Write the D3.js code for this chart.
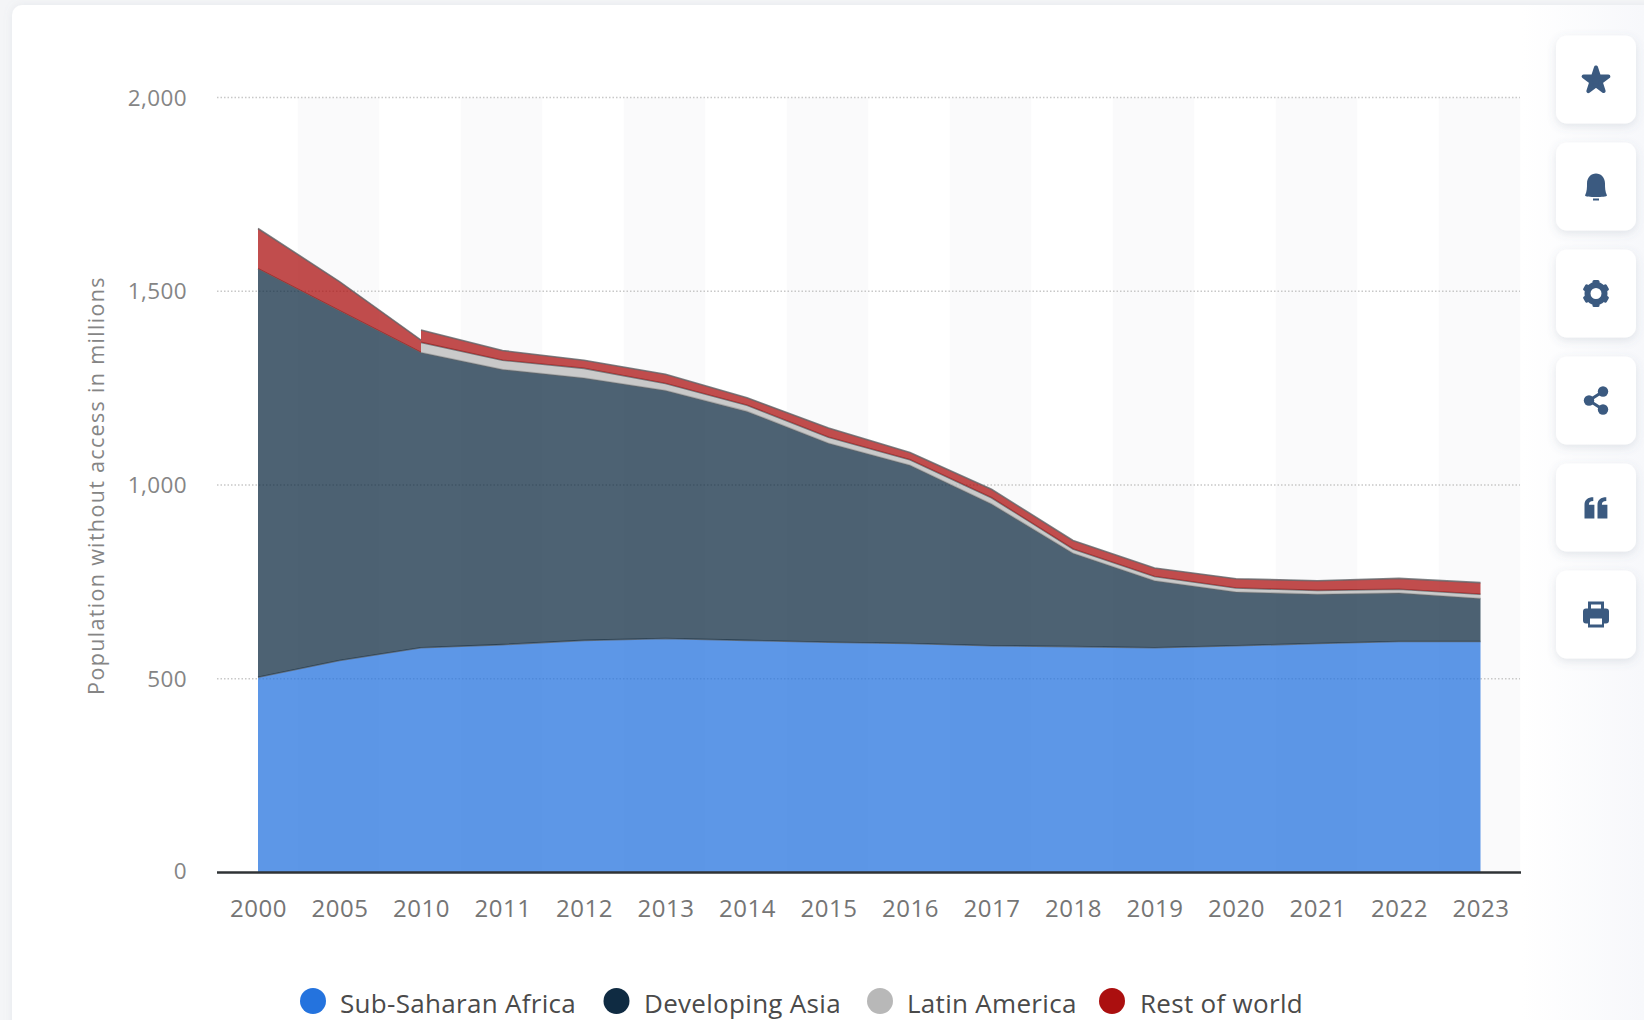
<!DOCTYPE html>
<html><head><meta charset="utf-8">
<script src="https://cdn.jsdelivr.net/npm/d3@7"></script>
<style>
html,body{margin:0;padding:0;background:#f4f5f7;overflow:hidden}
svg{display:block}
text{font-family:"Open Sans",sans-serif}
</style></head><body>
<svg id="c" width="1644" height="1020"></svg>
<script>
const categories=["2000","2005","2010","2011","2012","2013","2014","2015","2016","2017","2018","2019","2020","2021","2022","2023"];
const africa=[504,547,580,588,599,604,599,594,591,585,583,580,585,591,596,596];
const asia=[1054,903,762,710,677,640,591,514,460,366,241,173,139,127,125,111];
const latin=[null,null,26,24,25,18,16,15,14,16,11,11,10,10,10,11];
const rest=[104,75,32,25,21,24,19,24,19,22,22,22,24,25,28,30];
const yTicks=[0,500,1000,1500,2000];
const seriesNames=["Sub-Saharan Africa","Developing Asia","Latin America","Rest of world"];
const seriesColors=["#2473de","#0f2b42","#b8b8b8","#ab0f0f"];

const svg=d3.select("#c");
const defs=svg.append("defs");
const fade=defs.append("linearGradient").attr("id","fade");
fade.append("stop").attr("offset",0).attr("stop-color","#fff");
fade.append("stop").attr("offset",1).attr("stop-color","#f7f8fb");
const sh=defs.append("filter").attr("id","sh").attr("x","-30%").attr("y","-30%").attr("width","160%").attr("height","170%");
sh.append("feDropShadow").attr("dx",0).attr("dy",3).attr("stdDeviation",5).attr("flood-color","#5a6a80").attr("flood-opacity",.16);
const cs=defs.append("filter").attr("id","cs").attr("x","-2%").attr("y","-2%").attr("width","104%").attr("height","104%");
cs.append("feDropShadow").attr("dx",0).attr("dy",0).attr("stdDeviation",4).attr("flood-color","#8a94a6").attr("flood-opacity",.14);

// card
svg.append("rect").attr("x",12).attr("y",5).attr("width",1700).attr("height",1100).attr("rx",10).attr("fill","#fff").attr("filter","url(#cs)");
svg.append("rect").attr("x",1522).attr("y",5).attr("width",122).attr("height",1015).attr("fill","url(#fade)");

const x=d3.scalePoint().domain(categories).range([258,1480.5]);
const y=d3.scaleLinear().domain([0,2000]).range([872.5,97.5]);
const step=x.step();

// alternating bands
svg.append("g").selectAll("rect").data(categories.filter((c,i)=>i%2===1)).join("rect")
  .attr("x",d=>x(d)-step/2-1).attr("width",step).attr("y",y(2000)).attr("height",y(0)-y(2000)).attr("fill","#fafafb");

// grid
svg.append("g").selectAll("line").data(yTicks.filter(d=>d>0)).join("line")
  .attr("x1",217).attr("x2",1520).attr("y1",d=>y(d)).attr("y2",d=>y(d))
  .attr("stroke","#c8c8c8").attr("stroke-width",1.5).attr("stroke-dasharray","1.5 2");

// stacks
const rows=categories.map((c,i)=>{
  const a=africa[i],b=a+asia[i],l=latin[i];
  return {c,a,b,l,lt:l==null?null:b+l,rest:rest[i]};
});
const areaG=svg.append("g");
function band(data,lo,hi,color){
  areaG.append("path").attr("fill",color).attr("fill-opacity",.74)
    .attr("d",d3.area().x(d=>x(d.c)).y0(d=>y(lo(d))).y1(d=>y(hi(d)))(data));
  areaG.append("path").attr("fill","none").attr("stroke","#5f6468").attr("stroke-width",1.6).attr("stroke-opacity",.8)
    .attr("d",d3.line().x(d=>x(d.c)).y(d=>y(hi(d)))(data));
}
const noLatin=rows.slice(0,3), withLatin=rows.slice(2);
band(rows,()=>0,d=>d.a,seriesColors[0]);
band(rows,d=>d.a,d=>d.b,seriesColors[1]);
band(withLatin,d=>d.b,d=>d.lt,seriesColors[2]);
band(noLatin,d=>d.b,d=>d.b+d.rest,seriesColors[3]);
band(withLatin,d=>d.lt,d=>d.lt+d.rest,seriesColors[3]);

// axes
const yAxis=svg.append("g").attr("transform","translate(187,0)")
  .call(d3.axisLeft(y).tickValues(yTicks).tickFormat(d3.format(",")).tickSize(0).tickPadding(0));
yAxis.select(".domain").remove();
yAxis.selectAll("text").attr("font-family",'"Open Sans",sans-serif').attr("font-size",22.5).attr("letter-spacing",0.4).attr("fill","#858585")
  .attr("dy",d=>d===0?"0.25em":"0.34em");
const xAxis=svg.append("g").attr("transform","translate(0,872)")
  .call(d3.axisBottom(x).tickSize(0).tickPadding(0));
xAxis.select(".domain").remove();
xAxis.selectAll("text").attr("font-family",'"Open Sans",sans-serif').attr("font-size",24).attr("letter-spacing",0.5).attr("fill","#757575").attr("dy",0).attr("y",45);
svg.append("line").attr("x1",217).attr("x2",1521).attr("y1",y(0)).attr("y2",y(0)).attr("stroke","#2f3336").attr("stroke-width",2.4);

svg.append("text").attr("transform","translate(104,485.5) rotate(-90)").attr("text-anchor","middle")
  .attr("font-size",21.5).attr("letter-spacing",1.33).attr("fill","#858585").text("Population without access in millions");

// legend
const legendDotX=[313,616.5,880,1112], legendTextX=[340,644,907,1140];
const lg=svg.append("g").selectAll("g").data(seriesNames).join("g");
lg.append("circle").attr("cx",(d,i)=>legendDotX[i]).attr("cy",1001).attr("r",13).attr("fill",(d,i)=>seriesColors[i]);
lg.append("text").attr("x",(d,i)=>legendTextX[i]).attr("y",1013).attr("font-size",26).attr("letter-spacing",0.3).attr("fill","#4a4a4a").text(d=>d);

// side buttons
const btnTop=[35.5,142.5,249.5,356.5,463.5,570.5];
const iconColor="#3b5a80";
const btn=svg.append("g").selectAll("g").data(btnTop).join("g").attr("transform",d=>`translate(1556,${d})`);
btn.append("rect").attr("width",80).attr("height",88).attr("rx",11).attr("fill","#fff").attr("filter","url(#sh)");
const icons=btn.append("g").attr("transform","translate(40,44)").attr("fill",iconColor);
// star
d3.select(icons.nodes()[0]).append("path").attr("d",d3.symbol(d3.symbolStar,190)()).attr("transform","translate(0,1)")
  .attr("stroke",iconColor).attr("stroke-width",4).attr("stroke-linejoin","round");
// bell
d3.select(icons.nodes()[1]).call(g=>{
  g.append("path").attr("d","M-11,9 C-9,5 -9,1 -9,-3 C-9,-9 -5,-13 0,-13 C5,-13 9,-9 9,-3 C9,1 9,5 11,9 C11,11 -11,11 -11,9 Z");
  g.append("rect").attr("x",-3).attr("y",12).attr("width",6).attr("height",2);
});
// gear
d3.select(icons.nodes()[2]).call(g=>{
  g.append("circle").attr("r",8.5).attr("fill","none").attr("stroke",iconColor).attr("stroke-width",6);
  d3.range(6).forEach(i=>g.append("rect").attr("x",-3.5).attr("y",-13.5).attr("width",7).attr("height",5).attr("rx",1.5).attr("transform",`rotate(${i*60})`));
});
// share
d3.select(icons.nodes()[3]).call(g=>{
  g.append("path").attr("d","M7,-9 L-7,0 L7,9").attr("fill","none").attr("stroke",iconColor).attr("stroke-width",3);
  g.append("circle").attr("cx",7).attr("cy",-9).attr("r",5.2);
  g.append("circle").attr("cx",-7).attr("cy",0).attr("r",5.2);
  g.append("circle").attr("cx",7).attr("cy",9).attr("r",5.2);
});
// quote
d3.select(icons.nodes()[4]).call(g=>{
  [-11.5,1.5].forEach(dx=>g.append("path").attr("transform",`translate(${dx},1) scale(1.1,1.25)`)
    .attr("d","M0,-3 C0,-7 3,-9 8,-9 L8,-6 C5,-6 4,-5 4,-3 L9,-3 L9,8 L0,8 Z"));
});
// print
d3.select(icons.nodes()[5]).call(g=>{
  g.append("path").attr("fill-rule","evenodd").attr("d","M-8,-13 L8,-13 L8,-6 L10,-6 Q13,-6 13,-3 L13,6 Q13,9 10,9 L8,9 L8,13 L-8,13 L-8,9 L-10,9 Q-13,9 -13,6 L-13,-3 Q-13,-6 -10,-6 L-8,-6 Z M-5,-10 L-5,-6 L5,-6 L5,-10 Z M-6,4 L-6,10 L6,10 L6,4 Z");
});
</script></body></html>
